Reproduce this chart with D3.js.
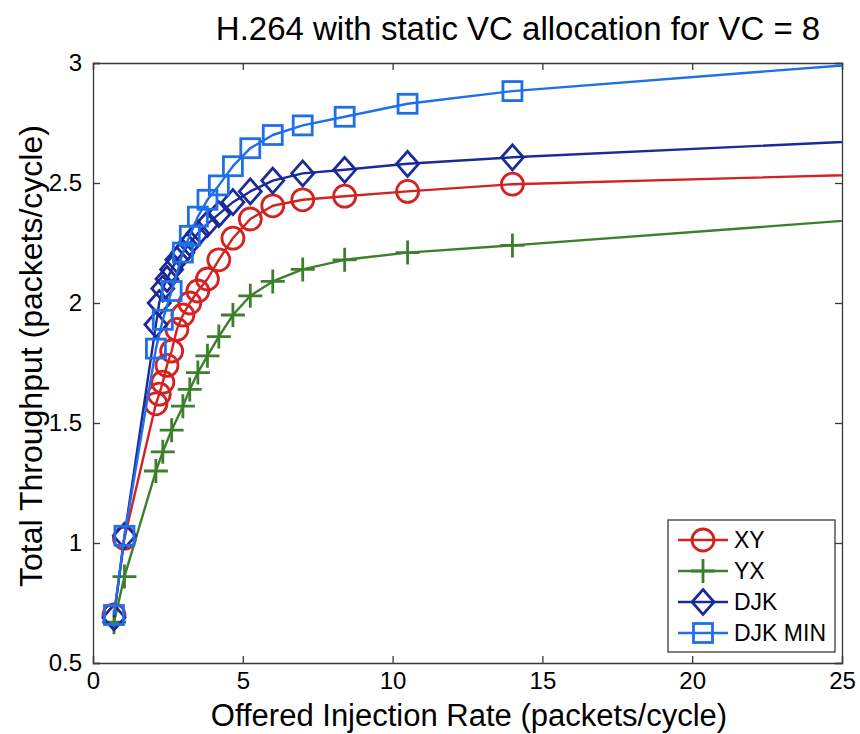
<!DOCTYPE html>
<html>
<head>
<meta charset="utf-8">
<script src="https://cdn.jsdelivr.net/npm/d3@7"></script>
<style>
  html, body { margin: 0; padding: 0; background: #fff; }
  svg { display: block; font-family: "Liberation Sans", Arial, sans-serif; }
</style>
</head>
<body>
<svg id="chart" width="860" height="734"></svg>
<script>
// Offered injection rates (packets/cycle); the last rate lies past the axis and is clipped.
const ratesFull   = [0.7, 1.05, 2.1, 2.21, 2.33, 2.47, 2.625, 2.8, 3.0, 3.23, 3.5, 3.82, 4.2, 4.67, 5.25, 6, 7, 8.4, 10.5, 14, 42];
const ratesSparse = [0.7, 1.05, 2.1, 2.33, 2.625, 3.0, 3.23, 3.5, 3.82, 4.2, 4.67, 5.25, 6, 7, 8.4, 10.5, 14, 42];

// Total throughput (packets/cycle) per routing algorithm
const xyThroughput     = [0.70, 1.02, 1.58, 1.62, 1.67, 1.74, 1.80, 1.89, 1.95, 2.00, 2.05, 2.10, 2.18, 2.27, 2.35, 2.405, 2.43, 2.445, 2.465, 2.495, 2.59];
const yxThroughput     = [0.67, 0.86, 1.30, 1.38, 1.47, 1.57, 1.64, 1.71, 1.78, 1.86, 1.95, 2.03, 2.09, 2.14, 2.18, 2.21, 2.24, 2.50];
const djkThroughput    = [0.69, 1.03, 1.91, 2.00, 2.06, 2.10, 2.14, 2.18, 2.21, 2.25, 2.29, 2.33, 2.37, 2.42, 2.465, 2.51, 2.54, 2.555, 2.58, 2.607, 2.77];
const djkMinThroughput = [0.70, 1.03, 1.81, 1.93, 2.05, 2.21, 2.28, 2.36, 2.43, 2.49, 2.57, 2.645, 2.70, 2.74, 2.776, 2.83, 2.883, 3.155];

const seriesNames = ["XY", "YX", "DJK", "DJK MIN"];
const xTicks = [0, 5, 10, 15, 20, 25];
const yTicks = [0.5, 1, 1.5, 2, 2.5, 3];

const titleText = "H.264 with static VC allocation for VC = 8";
const xLabel = "Offered Injection Rate (packets/cycle)";
const yLabel = "Total Throughput (packets/cycle)";

const series = [
  { name: seriesNames[0], xs: ratesFull,   ys: xyThroughput,     color: "#d42121", marker: "circle" },
  { name: seriesNames[1], xs: ratesSparse, ys: yxThroughput,     color: "#3c7f2c", marker: "plus" },
  { name: seriesNames[2], xs: ratesFull,   ys: djkThroughput,    color: "#1b2a98", marker: "diamond" },
  { name: seriesNames[3], xs: ratesSparse, ys: djkMinThroughput, color: "#1f6fe8", marker: "square" }
];

const svg = d3.select("#chart");
const plot = { left: 93, right: 842, top: 63, bottom: 663 };

const x = d3.scaleLinear().domain([0, 25]).range([plot.left, plot.right]);
const y = d3.scaleLinear().domain([0.5, 3]).range([plot.bottom, plot.top]);

svg.append("defs").append("clipPath").attr("id", "plot-clip")
  .append("rect")
  .attr("x", plot.left).attr("y", plot.top)
  .attr("width", plot.right - plot.left).attr("height", plot.bottom - plot.top);

// Marker shapes drawn around (0,0)
function drawMarker(g, type, color) {
  const sw = 2.8;
  if (type === "circle") {
    g.append("circle").attr("r", 11).attr("fill", "none").attr("stroke", color).attr("stroke-width", sw);
  } else if (type === "square") {
    g.append("rect").attr("x", -9.5).attr("y", -9.5).attr("width", 19).attr("height", 19)
      .attr("fill", "none").attr("stroke", color).attr("stroke-width", sw);
  } else if (type === "diamond") {
    g.append("path").attr("d", "M0,-12.5L11,0L0,12.5L-11,0Z")
      .attr("fill", "none").attr("stroke", color).attr("stroke-width", sw);
  } else if (type === "plus") {
    g.append("path").attr("d", "M-12,0H12M0,-12V12")
      .attr("fill", "none").attr("stroke", color).attr("stroke-width", sw);
  }
}

// Axes (inward ticks on all four sides, MATLAB box style)
const tickLen = 7;
const axisColor = "#3a3a3a";

const bottomAxis = d3.axisBottom(x).tickValues(xTicks).tickSize(-tickLen).tickPadding(9).tickFormat(d3.format("d"));
const topAxis = d3.axisTop(x).tickValues(xTicks).tickSize(-tickLen).tickFormat("");
const leftAxis = d3.axisLeft(y).tickValues(yTicks).tickSize(-tickLen).tickPadding(11).tickFormat(d => d3.format("~g")(d));
const rightAxis = d3.axisRight(y).tickValues(yTicks).tickSize(-tickLen).tickFormat("");

function styleAxis(g) {
  g.selectAll("path.domain").attr("stroke", axisColor).attr("stroke-width", 1.3);
  g.selectAll(".tick line").attr("stroke", axisColor).attr("stroke-width", 1.3);
  g.selectAll(".tick text").attr("fill", "#000").style("font-size", "24px")
    .style("font-family", "'Liberation Sans', Arial, sans-serif");
}

svg.append("g").attr("transform", `translate(0,${plot.bottom})`).call(bottomAxis).call(styleAxis);
svg.append("g").attr("transform", `translate(0,${plot.top})`).call(topAxis).call(styleAxis);
svg.append("g").attr("transform", `translate(${plot.left},0)`).call(leftAxis).call(styleAxis);
svg.append("g").attr("transform", `translate(${plot.right},0)`).call(rightAxis).call(styleAxis);

// Series lines and markers
const line = d3.line().x(d => x(d[0])).y(d => y(d[1]));
const dataLayer = svg.append("g").attr("clip-path", "url(#plot-clip)");

series.forEach(s => {
  const pts = s.xs.map((v, i) => [v, s.ys[i]]);
  dataLayer.append("path").datum(pts)
    .attr("d", line).attr("fill", "none")
    .attr("stroke", s.color).attr("stroke-width", 2.4).attr("stroke-linejoin", "round");
  pts.forEach(p => {
    const g = dataLayer.append("g").attr("transform", `translate(${x(p[0])},${y(p[1])})`);
    drawMarker(g, s.marker, s.color);
  });
});

// Legend
const legend = svg.append("g");
legend.append("rect").attr("x", 668).attr("y", 520).attr("width", 167).attr("height", 132)
  .attr("fill", "#fff").attr("stroke", axisColor).attr("stroke-width", 1.3);
series.forEach((s, i) => {
  const ly = 540 + i * 31;
  legend.append("line").attr("x1", 678).attr("x2", 728).attr("y1", ly).attr("y2", ly)
    .attr("stroke", s.color).attr("stroke-width", 2.4);
  const g = legend.append("g").attr("transform", `translate(703,${ly})`);
  drawMarker(g, s.marker, s.color);
  legend.append("text").attr("x", 734).attr("y", ly).attr("dy", "0.36em")
    .style("font-size", "23px").attr("fill", "#000").text(s.name);
});

// Title and axis labels
svg.append("text").attr("x", 518).attr("y", 40).attr("text-anchor", "middle")
  .style("font-size", "33px").attr("fill", "#000").text(titleText);
svg.append("text").attr("x", 469).attr("y", 726).attr("text-anchor", "middle")
  .style("font-size", "31px").attr("fill", "#000").text(xLabel);
svg.append("text").attr("transform", "translate(42,356) rotate(-90)").attr("text-anchor", "middle")
  .style("font-size", "32px").attr("fill", "#000").text(yLabel);
</script>
</body>
</html>
